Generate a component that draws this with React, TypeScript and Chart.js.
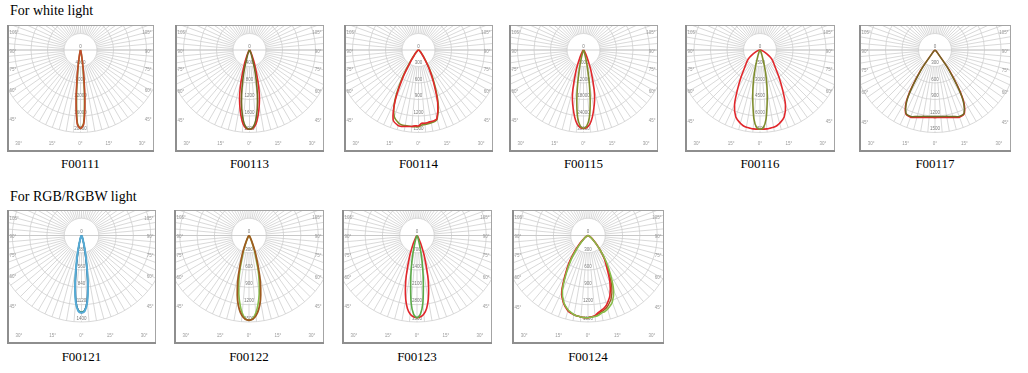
import React, { useEffect, useRef } from "react";
import { Chart, registerables } from "chart.js";

Chart.register(...registerables);

// angles from nadir (degrees)
const ANGLES = [0, 2.5, 5, 7.5, 10, 12.5, 15, 20, 25, 30, 35, 40, 45, 50, 55, 60, 70, 80, 90];

// ring tick labels (cd)
const F00111_TICKS = ["4000", "8000", "12000", "16000", "20000"];
const F00113_TICKS = ["400", "800", "1200", "1600", "2000"];
const F00114_TICKS = ["300", "600", "900", "1200", "1500"];
const F00115_TICKS = ["6000", "12000", "18000", "24000", "30000"];
const F00116_TICKS = ["1500", "3000", "4500", "6000", "7500"];
const F00117_TICKS = ["300", "600", "900", "1200", "1500"];
const F00121_TICKS = ["280", "560", "840", "1120", "1400"];
const F00122_TICKS = ["300", "600", "900", "1200", "1500"];
const F00123_TICKS = ["700", "1400", "2100", "2800", "3500"];
const F00124_TICKS = ["300", "600", "900", "1200", "1500"];

const SIDE_ANGLES = [105, 90, 75, 60, 45];
const BOTTOM_ANGLES = [30, 15, 0, 15, 30];

// luminous intensity (cd) per angle, C0 (right) / C180 (left)
const F00111_A = [19000, 18000, 12400, 6000, 2400, 1000, 400, 200, 100, 0, 0, 0, 0, 0, 0, 0, 0, 0, 0];
const F00111_B = [19000, 17600, 11000, 5000, 1800, 800, 300, 150, 60, 0, 0, 0, 0, 0, 0, 0, 0, 0, 0];

const F00113_A = [1920, 1900, 1800, 1600, 1360, 1100, 800, 360, 140, 60, 30, 20, 10, 0, 0, 0, 0, 0, 0];
const F00113_B = [1920, 1880, 1720, 1440, 1100, 760, 480, 160, 60, 30, 20, 10, 0, 0, 0, 0, 0, 0, 0];

const F00114_A_C0 = [1335, 1335, 1335, 1328, 1320, 1316, 1290, 1020, 645, 375, 180, 90, 53, 30, 23, 15, 8, 0, 0];
const F00114_A_C180 = [1380, 1380, 1395, 1403, 1410, 1425, 1425, 1350, 990, 540, 225, 105, 60, 30, 23, 15, 8, 0, 0];
const F00114_B_C0 = [1365, 1365, 1358, 1350, 1343, 1335, 1305, 1050, 690, 405, 195, 98, 53, 30, 23, 15, 8, 0, 0];
const F00114_B_C180 = [1395, 1395, 1395, 1395, 1395, 1395, 1380, 1290, 1020, 600, 260, 120, 60, 30, 23, 15, 8, 0, 0];

const F00115_A = [28500, 28200, 27000, 24600, 21600, 18600, 15000, 7800, 3300, 1500, 750, 450, 300, 150, 0, 0, 0, 0, 0];
const F00115_B = [28500, 27600, 24600, 18600, 12000, 6600, 3300, 900, 450, 300, 150, 0, 0, 0, 0, 0, 0, 0, 0];

const F00116_A = [7200, 7200, 7200, 7163, 7125, 7050, 6900, 6450, 5475, 4050, 3000, 2250, 1800, 1500, 1125, 750, 300, 113, 0];
const F00116_B = [7200, 7050, 6300, 4950, 3750, 2625, 1650, 525, 225, 113, 75, 38, 0, 0, 0, 0, 0, 0, 0];

const F00117_A = [1230, 1230, 1232, 1238, 1245, 1258, 1270, 1300, 1268, 1000, 470, 80, 30, 15, 8, 0, 0, 0, 0];
const F00117_B = [1210, 1210, 1212, 1218, 1225, 1238, 1250, 1285, 1255, 975, 440, 70, 30, 15, 8, 0, 0, 0, 0];

const F00121_A = [1250, 1222, 1078, 790, 489, 288, 158, 58, 29, 14, 7, 0, 0, 0, 0, 0, 0, 0, 0];
const F00121_B = [1250, 1215, 1050, 748, 446, 259, 144, 50, 22, 11, 6, 0, 0, 0, 0, 0, 0, 0, 0];
const F00121_C = [1236, 1208, 1064, 776, 474, 273, 151, 54, 26, 13, 6, 0, 0, 0, 0, 0, 0, 0, 0];

const F00122_A = [1470, 1455, 1395, 1290, 1140, 930, 705, 330, 120, 45, 23, 15, 8, 0, 0, 0, 0, 0, 0];
const F00122_B = [1470, 1440, 1350, 1200, 1020, 810, 600, 270, 90, 38, 18, 8, 0, 0, 0, 0, 0, 0, 0];

const F00123_A = [3325, 3290, 3185, 2975, 2625, 2170, 1680, 840, 350, 140, 70, 35, 18, 0, 0, 0, 0, 0, 0];
const F00123_B = [3325, 3185, 2730, 1960, 1330, 805, 420, 140, 53, 28, 0, 0, 0, 0, 0, 0, 0, 0, 0];

const F00124_A_C0 = [1425, 1410, 1395, 1350, 1320, 1290, 1245, 1110, 900, 660, 495, 330, 195, 120, 75, 45, 15, 0, 0];
const F00124_A_C180 = [1425, 1425, 1418, 1410, 1395, 1380, 1350, 1245, 1080, 795, 570, 360, 210, 120, 75, 45, 15, 0, 0];
const F00124_B_C0 = [1425, 1418, 1410, 1395, 1365, 1350, 1320, 1230, 1050, 780, 540, 330, 180, 105, 60, 30, 15, 0, 0];
const F00124_B_C180 = [1425, 1425, 1418, 1410, 1395, 1365, 1335, 1230, 1050, 750, 510, 300, 165, 90, 60, 30, 15, 0, 0];
const F00124_C_C0 = [1425, 1414, 1403, 1373, 1343, 1320, 1283, 1170, 975, 720, 518, 330, 188, 113, 68, 38, 15, 0, 0];
const F00124_C_C180 = [1425, 1425, 1418, 1410, 1395, 1373, 1343, 1238, 1065, 773, 540, 330, 188, 105, 68, 38, 15, 0, 0];

// styles
const RED = "#e1272c";
const OLIVE = "#7f8d2e";
const BROWNRED = "#c04a2a";
const DARKOLIVE = "#6f6a24";
const BROWN = "#9e5a1f";
const LGREEN = "#86bd4a";
const GREEN = "#5aaa48";
const BLUE = "#55aad6";
const NAVY = "#2c4f86";
const BGREEN = "#3c9a5c";

type Series = { c0: number[]; c180: number[]; color: string; width: number };
type Panel = {
  name: string;
  left: number;
  top: number;
  w: number;
  h: number;
  off: number;
  s: number;
  labelTop: number;
  ticks: string[];
  series: Series[];
};

const R1 = { top: 25, h: 127, off: 25, s: 16.5, labelTop: 157 };
const R2 = { top: 210, h: 134, off: 25.5, s: 17.3, labelTop: 350 };

// first series is drawn on top
const PANELS: Panel[] = [
  { name: "F00111", left: 7, w: 147, ...R1, ticks: F00111_TICKS, series: [
    { c0: F00111_A, c180: F00111_A, color: BROWNRED, width: 1.6 },
    { c0: F00111_B, c180: F00111_B, color: OLIVE, width: 1.6 },
  ] },
  { name: "F00113", left: 175, w: 149, ...R1, ticks: F00113_TICKS, series: [
    { c0: F00113_B, c180: F00113_B, color: DARKOLIVE, width: 1.6 },
    { c0: F00113_A, c180: F00113_A, color: RED, width: 1.6 },
  ] },
  { name: "F00114", left: 344, w: 149, ...R1, ticks: F00114_TICKS, series: [
    { c0: F00114_A_C0, c180: F00114_A_C180, color: RED, width: 1.6 },
    { c0: F00114_B_C0, c180: F00114_B_C180, color: OLIVE, width: 1.6 },
  ] },
  { name: "F00115", left: 509, w: 149, ...R1, ticks: F00115_TICKS, series: [
    { c0: F00115_B, c180: F00115_B, color: OLIVE, width: 1.6 },
    { c0: F00115_A, c180: F00115_A, color: RED, width: 1.6 },
  ] },
  { name: "F00116", left: 685, w: 150, ...R1, ticks: F00116_TICKS, series: [
    { c0: F00116_B, c180: F00116_B, color: OLIVE, width: 1.6 },
    { c0: F00116_A, c180: F00116_A, color: RED, width: 1.6 },
  ] },
  { name: "F00117", left: 859, w: 152, ...R1, ticks: F00117_TICKS, series: [
    { c0: F00117_B, c180: F00117_B, color: DARKOLIVE, width: 1.5 },
    { c0: F00117_A, c180: F00117_A, color: RED, width: 1.5 },
  ] },
  { name: "F00121", left: 7, w: 149, ...R2, ticks: F00121_TICKS, series: [
    { c0: F00121_A, c180: F00121_A, color: BLUE, width: 2 },
    { c0: F00121_B, c180: F00121_B, color: NAVY, width: 1.4 },
    { c0: F00121_C, c180: F00121_C, color: BGREEN, width: 1.4 },
  ] },
  { name: "F00122", left: 174, w: 150, ...R2, ticks: F00122_TICKS, series: [
    { c0: F00122_A, c180: F00122_A, color: BROWN, width: 1.8 },
    { c0: F00122_B, c180: F00122_B, color: LGREEN, width: 1.6 },
  ] },
  { name: "F00123", left: 342, w: 150, ...R2, ticks: F00123_TICKS, series: [
    { c0: F00123_B, c180: F00123_B, color: GREEN, width: 1.6 },
    { c0: F00123_A, c180: F00123_A, color: RED, width: 1.6 },
  ] },
  { name: "F00124", left: 512, w: 152, ...R2, ticks: F00124_TICKS, series: [
    { c0: F00124_B_C0, c180: F00124_B_C180, color: LGREEN, width: 1.6 },
    { c0: F00124_A_C0, c180: F00124_A_C180, color: RED, width: 1.6 },
    { c0: F00124_C_C0, c180: F00124_C_C180, color: BROWN, width: 1.4 },
  ] },
];

function toPoints(c0: number[], c180: number[]) {
  const pts: { x: number; y: number }[] = [];
  for (let i = ANGLES.length - 1; i >= 0; i--) {
    const t = (ANGLES[i] * Math.PI) / 180;
    pts.push({ x: -c180[i] * Math.sin(t), y: -c180[i] * Math.cos(t) });
  }
  for (let i = 1; i < ANGLES.length; i++) {
    const t = (ANGLES[i] * Math.PI) / 180;
    pts.push({ x: c0[i] * Math.sin(t), y: -c0[i] * Math.cos(t) });
  }
  return pts;
}

const LABEL_FONT = "4.5px 'Liberation Sans', Arial, sans-serif";

const polarGrid = {
  id: "polarGrid",
  beforeDatasetsDraw(chart: any, _args: any, opts: any) {
    const { ctx, chartArea: ca, scales } = chart;
    const xs = scales.x;
    const ys = scales.y;
    const ox = xs.getPixelForValue(0);
    const oy = ys.getPixelForValue(0);
    const rs = xs.getPixelForValue(opts.step) - ox;
    const R = rs * 5;
    const W = ca.right - ca.left;
    ctx.save();
    ctx.beginPath();
    ctx.rect(ca.left, ca.top, W, ca.bottom - ca.top);
    ctx.clip();
    ctx.fillStyle = "#ffffff";
    ctx.fillRect(ca.left, ca.top, W, ca.bottom - ca.top);

    ctx.strokeStyle = "#cfcfcf";
    ctx.lineWidth = 0.8;
    ctx.beginPath();
    for (let a = 0; a < 360; a += 5) {
      const t = (a * Math.PI) / 180;
      ctx.moveTo(ox + rs * Math.sin(t), oy + rs * Math.cos(t));
      ctx.lineTo(ox + R * Math.sin(t), oy + R * Math.cos(t));
    }
    ctx.stroke();
    for (let k = 2; k <= 5; k++) {
      ctx.beginPath();
      ctx.arc(ox, oy, rs * k, 0, Math.PI * 2);
      ctx.stroke();
    }
    ctx.beginPath();
    ctx.arc(ox, oy, rs, 0, Math.PI * 2);
    ctx.fillStyle = "#ffffff";
    ctx.fill();
    ctx.stroke();
    ctx.beginPath();
    ctx.moveTo(ca.left, oy);
    ctx.lineTo(ca.right, oy);
    ctx.strokeStyle = "#c4c4c4";
    ctx.stroke();

    ctx.font = LABEL_FONT;
    ctx.fillStyle = "#7a7a7a";
    ctx.textAlign = "center";
    ctx.textBaseline = "bottom";
    ctx.fillText("0", ox, oy - 1);
    opts.ticks.forEach((tk: string, i: number) => {
      const ty = oy + (i + 1) * rs - 1.2;
      const tw = ctx.measureText(tk).width;
      ctx.fillStyle = "rgba(255,255,255,0.85)";
      ctx.fillRect(ox - tw / 2 - 0.5, ty - 4.4, tw + 1, 4.4);
      ctx.fillStyle = "#7a7a7a";
      ctx.fillText(tk, ox, ty);
    });

    ctx.fillStyle = "#9a9a9a";
    ctx.textBaseline = "middle";
    const X = W / 2 - 5;
    SIDE_ANGLES.forEach((a) => {
      const t = (a * Math.PI) / 180;
      const ly = (a === 90 ? oy : oy + X / Math.tan(t)) + 1.5;
      ctx.textAlign = "left";
      ctx.fillText(a + "°", ca.left + 2.5, ly);
      ctx.textAlign = "right";
      ctx.fillText(a + "°", ca.right - 2.5, ly);
    });
    ctx.textAlign = "center";
    const by = ca.bottom - 8;
    const fr = [-0.42, -0.193, 0, 0.193, 0.42];
    BOTTOM_ANGLES.forEach((a, i) => {
      ctx.fillText(a + "°", ox + fr[i] * W, by);
    });
    ctx.restore();
  },
  afterDraw(chart: any) {
    const { ctx, width, height } = chart;
    ctx.save();
    ctx.strokeStyle = "#a4a4a4";
    ctx.lineWidth = 1;
    ctx.strokeRect(0.5, 0.5, width - 1, height - 1);
    ctx.fillStyle = "#8e8e8e";
    ctx.fillRect(0, 0, 2, height);
    ctx.fillRect(0, height - 2, width, 2);
    ctx.restore();
  },
};

function PolarPanel({ p }: { p: Panel }) {
  const ref = useRef<HTMLCanvasElement>(null);
  useEffect(() => {
    const step = parseFloat(p.ticks[0]);
    const unit = step / p.s;
    const chart = new Chart(ref.current as HTMLCanvasElement, {
      type: "scatter",
      data: {
        datasets: p.series.map((sr) => ({
          data: toPoints(sr.c0, sr.c180),
          showLine: true,
          borderColor: sr.color,
          backgroundColor: sr.color,
          borderWidth: sr.width,
          pointRadius: 0,
          tension: 0.3,
          fill: false,
        })),
      },
      options: {
        responsive: false,
        animation: false,
        devicePixelRatio: 1,
        events: [],
        layout: { padding: 0 },
        plugins: {
          legend: { display: false },
          tooltip: { enabled: false },
          polarGrid: { step, ticks: p.ticks },
        } as any,
        scales: {
          x: { type: "linear", display: false, min: -(p.w / 2) * unit, max: (p.w / 2) * unit },
          y: { type: "linear", display: false, min: -(p.h - p.off) * unit, max: p.off * unit },
        },
      },
      plugins: [polarGrid],
    });
    return () => chart.destroy();
  }, [p]);
  return (
    <>
      <canvas
        ref={ref}
        width={p.w}
        height={p.h}
        style={{ position: "absolute", left: p.left, top: p.top, width: p.w, height: p.h }}
      />
      <div
        style={{
          position: "absolute",
          left: p.left,
          top: p.labelTop,
          width: p.w,
          textAlign: "center",
          fontFamily: "'Liberation Serif', 'Times New Roman', serif",
          fontSize: 13,
          lineHeight: "13px",
          color: "#000",
        }}
      >
        {p.name}
      </div>
    </>
  );
}

const titleStyle: React.CSSProperties = {
  position: "absolute",
  left: 10,
  fontFamily: "'Liberation Serif', 'Times New Roman', serif",
  fontSize: 14,
  lineHeight: "14px",
  color: "#000",
  whiteSpace: "nowrap",
};

export default function App() {
  return (
    <div style={{ position: "absolute", left: 0, top: 0, width: 1028, height: 373, background: "#fff", overflow: "hidden" }}>
      <div style={{ ...titleStyle, top: 4 }}>For white light</div>
      <div style={{ ...titleStyle, top: 190 }}>For RGB/RGBW light</div>
      {PANELS.map((p) => (
        <PolarPanel key={p.name} p={p} />
      ))}
    </div>
  );
}
